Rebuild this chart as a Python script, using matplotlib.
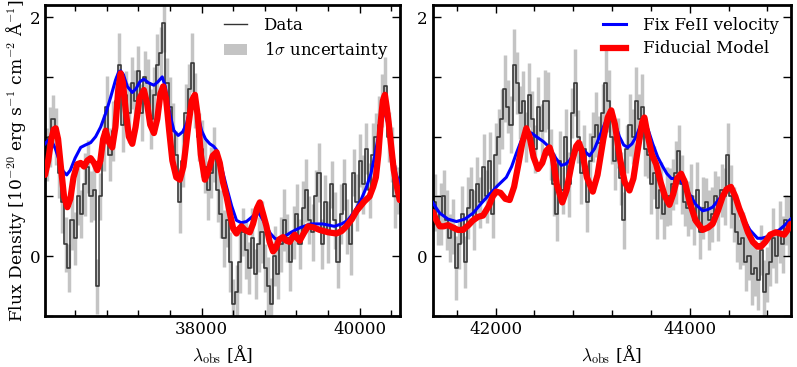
import numpy as np
import matplotlib
matplotlib.use("Agg")
import matplotlib.pyplot as plt
from matplotlib.patches import Patch
from matplotlib.ticker import MultipleLocator, FuncFormatter

plt.rcParams["font.family"] = ["DejaVu Serif"]
plt.rcParams["mathtext.fontset"] = "cm"

# ---- left panel ----
L_RANGE = (36020, 40505)
L_FLUX = [0.85, 1.0, 1.15, 1.0, 0.7, 0.45, 0.1, -0.1, 0.3, 0.15,
          0.5, 0.35, 0.6, 0.75, 0.5, 0.55, -0.25, 0.5, 0.95, 1.25,
          0.85, 1.05, 1.3, 1.6, 1.1, 1.35, 1.2, 1.45, 1.3, 1.55,
          1.2, 1.5, 1.45, 1.15, 1.35, 1.6, 1.7, 1.95, 1.45, 1.25,
          1.05, 0.85, 0.45, 0.8, 1.2, 1.4, 1.62, 1.3, 1.0, 0.9,
          0.75, 0.55, 0.7, 0.85, 0.55, 0.35, 0.15, 0.3, -0.05, -0.4,
          -0.3, -0.05, 0.2, 0.05, -0.1, 0.15, -0.15, 0.1, 0.2, -0.1,
          -0.25, -0.4, 0.0, -0.15, 0.1, 0.3, 0.15, -0.05, 0.2, 0.35,
          0.1, 0.4, 0.55, 0.3, 0.2, 0.5, 0.7, 0.1, 0.45, 0.2,
          0.6, 0.3, -0.05, 0.35, 0.6, 0.25, 0.1, 0.7, 0.45, 0.8,
          0.6, 0.9, 0.55, 0.85, 1.0, 1.1, 1.3, 1.42, 1.0, 0.85,
          0.5, 0.55]
L_ERR = [0.22, 0.25, 0.2, 0.24, 0.21, 0.26, 0.23, 0.2, 0.25, 0.22,
         0.24, 0.2, 0.26, 0.22, 0.21, 0.25, 0.23, 0.2, 0.24, 0.26,
         0.22, 0.25, 0.21, 0.27, 0.23, 0.2, 0.25, 0.22, 0.26, 0.21,
         0.24, 0.22, 0.2, 0.25, 0.23, 0.26, 0.22, 0.24, 0.21, 0.25,
         0.23, 0.2, 0.26, 0.22, 0.24, 0.21, 0.25, 0.23, 0.2, 0.24,
         0.22, 0.25, 0.21, 0.23, 0.26, 0.2, 0.24, 0.22, 0.25, 0.21,
         0.23, 0.26, 0.2, 0.24, 0.22, 0.25, 0.21, 0.23, 0.26, 0.2,
         0.24, 0.22, 0.25, 0.21, 0.23, 0.26, 0.2, 0.24, 0.22, 0.25,
         0.21, 0.23, 0.26, 0.2, 0.24, 0.22, 0.25, 0.21, 0.23, 0.26,
         0.2, 0.24, 0.22, 0.25, 0.21, 0.23, 0.26, 0.2, 0.24, 0.22,
         0.25, 0.21, 0.23, 0.26, 0.2, 0.24, 0.22, 0.25, 0.21, 0.23,
         0.26, 0.2]

L_BLUE_WAVE = [36020, 36060, 36100, 36150, 36200, 36250, 36294, 36340, 36400,
               36471, 36530, 36597, 36660, 36723, 36790, 36850, 36910, 36950,
               36976, 37010, 37060, 37123, 37170, 37220, 37270, 37330, 37397,
               37450, 37502, 37540, 37599, 37650, 37704, 37760, 37810, 37855,
               37893, 37930, 37965, 38000, 38050, 38104, 38150, 38189, 38250,
               38315, 38380, 38441, 38500, 38567, 38640, 38714, 38770, 38820,
               38870, 38925, 38988, 39060, 39131, 39250, 39383, 39530, 39679,
               39770, 39847, 39930, 40015, 40080, 40141, 40190, 40226, 40270,
               40310, 40350, 40394, 40430, 40457, 40505]
L_BLUE = [0.94, 0.97, 0.97, 0.90, 0.80, 0.71, 0.68, 0.72, 0.82,
          0.91, 0.93, 0.95, 1.00, 1.08, 1.20, 1.33, 1.47, 1.54,
          1.55, 1.52, 1.42, 1.37, 1.40, 1.46, 1.48, 1.45, 1.43,
          1.46, 1.50, 1.42, 1.19, 1.05, 1.01, 1.04, 1.11, 1.24,
          1.32, 1.28, 1.15, 1.05, 0.98, 0.94, 0.92, 0.89, 0.75,
          0.58, 0.42, 0.30, 0.28, 0.29, 0.33, 0.37, 0.31, 0.25,
          0.19, 0.15, 0.13, 0.17, 0.20, 0.24, 0.27, 0.27, 0.25,
          0.27, 0.30, 0.37, 0.47, 0.57, 0.69, 0.84, 0.97, 1.13,
          1.22, 1.12, 0.97, 0.80, 0.69, 0.61]

L_RED_WAVE = [36020, 36060, 36100, 36130, 36155, 36185, 36220, 36260, 36302,
              36340, 36380, 36428, 36470, 36513, 36555, 36597, 36640, 36681,
              36720, 36755, 36787, 36830, 36870, 36910, 36945, 36976, 37005,
              37040, 37080, 37123, 37165, 37215, 37270, 37310, 37350, 37397,
              37440, 37480, 37514, 37550, 37590, 37630, 37680, 37725, 37770,
              37830, 37875, 37915, 37950, 37990, 38041, 38090, 38140, 38189,
              38230, 38270, 38315, 38360, 38400, 38441, 38475, 38504, 38545,
              38609, 38650, 38700, 38736, 38775, 38820, 38860, 38904, 38940,
              38980, 39030, 39070, 39114, 39150, 39178, 39210, 39241, 39290,
              39346, 39420, 39493, 39600, 39704, 39770, 39830, 39900, 39960,
              39998, 40060, 40124, 40170, 40204, 40235, 40265, 40292, 40318,
              40340, 40365, 40394, 40430, 40470, 40505]
L_RED = [0.68, 0.80, 0.98, 1.06, 1.07, 0.98, 0.75, 0.50, 0.41,
         0.48, 0.66, 0.77, 0.78, 0.75, 0.80, 0.82, 0.78, 0.72,
         0.80, 0.98, 1.05, 0.95, 0.91, 1.08, 1.38, 1.53, 1.45,
         1.22, 1.00, 0.94, 1.08, 1.32, 1.39, 1.28, 1.10, 1.03,
         1.15, 1.36, 1.42, 1.32, 1.05, 0.80, 0.66, 0.64, 0.75,
         1.08, 1.30, 1.35, 1.18, 0.85, 0.64, 0.72, 0.84, 0.87,
         0.78, 0.62, 0.50, 0.35, 0.23, 0.19, 0.23, 0.25, 0.22,
         0.20, 0.27, 0.40, 0.45, 0.36, 0.25, 0.12, 0.04, 0.07,
         0.14, 0.16, 0.13, 0.12, 0.16, 0.18, 0.15, 0.13, 0.19,
         0.25, 0.24, 0.22, 0.20, 0.19, 0.21, 0.25, 0.31, 0.38,
         0.41, 0.46, 0.50, 0.58, 0.66, 0.85, 1.12, 1.30, 1.35,
         1.25, 1.12, 0.94, 0.72, 0.58, 0.47]

# ---- right panel ----
R_RANGE = (41352, 45040)
R_FLUX = [0.45, 0.3, 0.35, 0.5, 0.3, 0.15, 0.25, -0.1, 0.1, 0.35,
          -0.05, 0.4, 0.55, 0.3, 0.6, 0.45, 0.75, 0.5, 0.8, 0.35,
          0.85, 1.0, 1.15, 1.4, 1.25, 1.1, 1.6, 1.45, 1.2, 1.3,
          1.0, 1.35, 1.15, 0.9, 1.25, 1.05, 1.3,
          1.3, 0.85, 0.6, 0.35, 0.8, 0.55, 1.0, 0.6, 1.2, 1.45,
          1.0, 0.7, 0.9, 0.45, 0.8, 1.0, 1.1, 0.95, 1.2, 1.45,
          1.3, 1.0, 0.8, 0.95, 0.65, 0.3, 0.9, 1.1, 1.0, 1.3,
          1.15, 1.25, 0.9, 0.85, 0.6, 0.7, 0.4, 0.55, 0.35, 0.5,
          0.5, 0.6, 0.7, 0.88, 0.6, 0.45, 0.4, 0.5, 0.3, 0.55,
          0.2, 0.4, 0.45, 0.3, 0.35, 0.5, 0.4, 0.55, 0.5, 0.85,
          0.5, 0.35, 0.2, 0.1, 0.15, -0.05, 0.0, -0.15, -0.1, -0.2,
          0.05, -0.3, -0.15, -0.05, 0.15, 0.0, 0.2, 0.1, 0.3, 0.25]
R_ERR = [0.24, 0.21, 0.26, 0.22, 0.25, 0.2, 0.23, 0.27, 0.21, 0.24,
         0.22, 0.26, 0.2, 0.25, 0.23, 0.21, 0.27, 0.22, 0.24, 0.2,
         0.26, 0.23, 0.25, 0.28, 0.22, 0.24, 0.3, 0.26, 0.22, 0.25,
         0.21, 0.27, 0.23, 0.2, 0.25, 0.22, 0.26,
         0.24, 0.21, 0.26, 0.22, 0.25, 0.2, 0.23, 0.27, 0.21, 0.28,
         0.22, 0.26, 0.2, 0.25, 0.23, 0.21, 0.27, 0.22, 0.24, 0.28,
         0.26, 0.23, 0.25, 0.21, 0.22, 0.24, 0.2, 0.26, 0.23, 0.28,
         0.21, 0.27, 0.23, 0.2, 0.25, 0.22, 0.26, 0.24, 0.21, 0.25,
         0.24, 0.21, 0.26, 0.22, 0.25, 0.2, 0.23, 0.27, 0.21, 0.24,
         0.22, 0.26, 0.2, 0.25, 0.23, 0.21, 0.27, 0.22, 0.24, 0.26,
         0.26, 0.23, 0.25, 0.21, 0.22, 0.24, 0.2, 0.26, 0.23, 0.25,
         0.21, 0.27, 0.23, 0.2, 0.25, 0.22, 0.26, 0.24, 0.21, 0.25]

R_BLUE_WAVE = [41352, 41390, 41424, 41510, 41596, 41680, 41767, 41850, 41939,
               42020, 42110, 42165, 42213, 42265, 42316, 42370, 42419, 42490,
               42556, 42620, 42676, 42720, 42762, 42815, 42865, 42915, 42968,
               43020, 43070, 43130, 43191, 43235, 43276, 43320, 43362, 43405,
               43448, 43490, 43533, 43575, 43619, 43670, 43722, 43765, 43811,
               43850, 43893, 43945, 43997, 44065, 44133, 44185, 44236, 44305,
               44374, 44425, 44485, 44545, 44620, 44699, 44740, 44786, 44855,
               44923, 44980, 45040]
R_BLUE = [0.45, 0.40, 0.36, 0.31, 0.29, 0.31, 0.36, 0.44, 0.52,
          0.59, 0.66, 0.75, 0.86, 0.97, 1.04, 1.03, 1.00, 0.96,
          0.91, 0.82, 0.76, 0.77, 0.80, 0.87, 0.91, 0.88, 0.84,
          0.90, 1.00, 1.12, 1.18, 1.10, 1.00, 0.93, 0.91, 0.94,
          1.00, 1.09, 1.14, 1.05, 0.94, 0.83, 0.75, 0.69, 0.65,
          0.65, 0.65, 0.59, 0.52, 0.43, 0.38, 0.39, 0.41, 0.48,
          0.55, 0.57, 0.46, 0.33, 0.22, 0.15, 0.15, 0.16, 0.19,
          0.22, 0.26, 0.31]

R_RED_WAVE = [41352, 41390, 41424, 41465, 41509, 41560, 41610, 41664, 41720,
              41767, 41820, 41870, 41930, 41970, 42007, 42050, 42100, 42144,
              42190, 42230, 42275, 42316, 42350, 42390, 42436, 42480, 42520,
              42556, 42590, 42630, 42687, 42730, 42790, 42830, 42857, 42890,
              42940, 43001, 43050, 43110, 43155, 43191, 43230, 43280, 43330,
              43379, 43420, 43470, 43510, 43533, 43565, 43610, 43654, 43700,
              43745, 43791, 43830, 43870, 43911, 43950, 44000, 44060, 44133,
              44190, 44236, 44290, 44340, 44380, 44425, 44470, 44510, 44545,
              44600, 44650, 44700, 44734, 44780, 44830, 44888, 44930, 44974,
              45010, 45040]
R_RED = [0.37, 0.30, 0.25, 0.25, 0.26, 0.24, 0.22, 0.22, 0.26,
         0.30, 0.33, 0.34, 0.42, 0.50, 0.54, 0.53, 0.48, 0.47,
         0.58, 0.75, 0.95, 1.07, 1.00, 0.83, 0.73, 0.78, 0.88,
         0.91, 0.82, 0.60, 0.45, 0.55, 0.80, 0.92, 0.95, 0.88,
         0.66, 0.54, 0.68, 0.98, 1.16, 1.22, 1.10, 0.82, 0.62,
         0.55, 0.65, 0.92, 1.12, 1.16, 1.02, 0.85, 0.77, 0.62,
         0.50, 0.43, 0.52, 0.65, 0.69, 0.62, 0.45, 0.30, 0.22,
         0.24, 0.27, 0.38, 0.50, 0.56, 0.58, 0.50, 0.40, 0.33,
         0.20, 0.12, 0.08, 0.08, 0.12, 0.18, 0.20, 0.19, 0.18,
         0.22, 0.27]

YLIM = (-0.5, 2.1)


def draw_panel(ax, xr, flux, err, bw, bflux, rw, rflux):
    flux = np.array(flux)
    err = np.array(err)
    wave = np.linspace(xr[0] + 20, xr[1] - 20, len(flux))
    ax.vlines(wave, flux - err, flux + err, color="#c4c4c4", lw=2.5, zorder=1)
    ax.step(wave, flux, where="mid", color="#383838", lw=1.2, zorder=2)
    ax.plot(bw, bflux, color="#0000ff", lw=2.2, zorder=3,
            solid_joinstyle="round")
    ax.plot(rw, rflux, color="#ff0000", lw=4.5, zorder=4,
            solid_joinstyle="round", solid_capstyle="round")
    ax.set_xlim(*xr)
    ax.set_ylim(*YLIM)
    ax.xaxis.set_major_locator(MultipleLocator(2000))
    ax.xaxis.set_minor_locator(MultipleLocator(400))
    ax.yaxis.set_major_locator(MultipleLocator(0.5))
    ax.yaxis.set_major_formatter(FuncFormatter(
        lambda v, p: "%d" % round(v) if abs(v) < 1e-6 or abs(v - 2) < 1e-6 else ""))
    ax.tick_params(which="both", direction="in", top=True, right=True,
                   labelsize=12, width=1)
    ax.tick_params(which="major", length=6)
    ax.tick_params(which="minor", length=4)
    for sp in ax.spines.values():
        sp.set_linewidth(2.0)
    ax.set_xlabel(r"$\lambda_{\rm obs}$ [Å]", fontsize=12.5)


fig = plt.figure(figsize=(7.97, 3.67), dpi=100)
ax1 = fig.add_axes([0.0565, 0.139, 0.445, 0.847])
ax2 = fig.add_axes([0.543, 0.139, 0.449, 0.847])

draw_panel(ax1, L_RANGE, L_FLUX, L_ERR, L_BLUE_WAVE, L_BLUE, L_RED_WAVE, L_RED)
draw_panel(ax2, R_RANGE, R_FLUX, R_ERR, R_BLUE_WAVE, R_BLUE, R_RED_WAVE, R_RED)

ax1.set_ylabel(r"Flux Density [10$^{-20}$ erg s$^{-1}$ cm$^{-2}$ Å$^{-1}$]",
               fontsize=12.3, labelpad=1)

h_data = plt.Line2D([], [], color="#333333", lw=1.0)
h_unc = Patch(facecolor="#c4c4c4", edgecolor="none")
ax1.legend([h_data, h_unc], ["Data", r"1$\sigma$ uncertainty"], loc="upper right",
           frameon=False, fontsize=12, handlelength=1.4, handletextpad=1.0,
           borderaxespad=0.3, labelspacing=0.4)
h_b = plt.Line2D([], [], color="#0000ff", lw=2.2)
h_r = plt.Line2D([], [], color="#ff0000", lw=4.5)
ax2.legend([h_b, h_r], ["Fix FeII velocity", "Fiducial Model"], loc="upper right",
           frameon=False, fontsize=12, handlelength=1.4, handletextpad=1.0,
           borderaxespad=0.3, labelspacing=0.4)

fig.savefig("out.png", dpi=100)
